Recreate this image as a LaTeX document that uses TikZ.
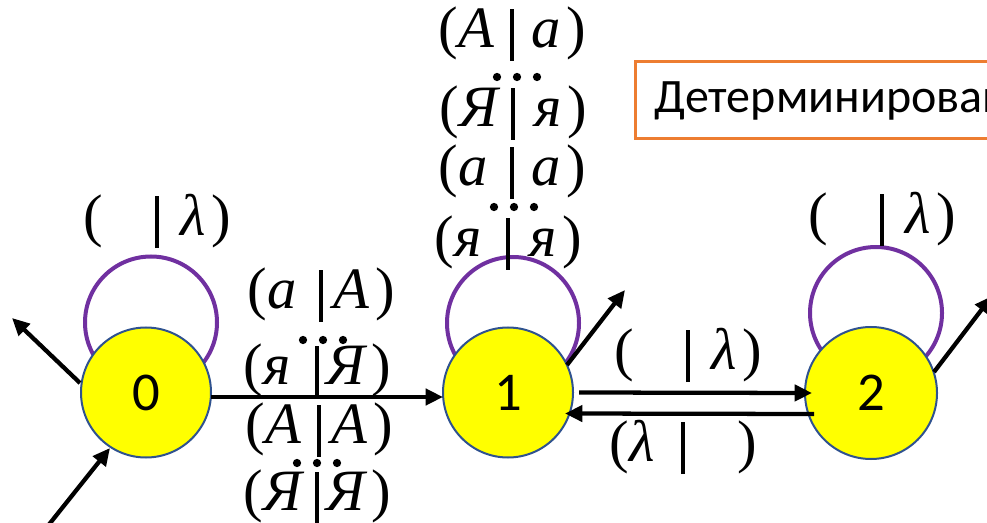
\documentclass[tikz,border=0pt]{standalone}
\usepackage{fontspec}
\setmainfont{Liberation Serif}
\newfontfamily\tnr{LiberationSerif}[Extension=.ttf, UprightFont=*-Regular, ItalicFont=*-Italic, BoldFont=*-Bold]
\newfontfamily\carl{Carlito}
\usetikzlibrary{arrows.meta,backgrounds}
\definecolor{nodefill}{HTML}{FFFF00}
\definecolor{nodeline}{HTML}{2F528F}
\definecolor{looppurple}{HTML}{7030A0}
\definecolor{boxorange}{HTML}{ED7D31}
\newcommand\lbl[2]{(\makebox[0.9em][l]{\kern0.02em\itshape #1}\rule[-0.22em]{0.055em}{0.88em}\makebox[0.9em][r]{\itshape #2\kern0.1em})}
\newcommand\threedots[1]{\foreach \d in {-20,0,20} {\fill ([xshift=\d*0.75pt]#1) circle (3.1pt);}}
\tikzset{
  state/.style={circle, fill=nodefill, draw=nodeline, line width=1.5pt, minimum size=97.5pt, inner sep=0pt, font=\carl\fontsize{41}{44}\selectfont},
  loopline/.style={draw=looppurple, line width=3pt},
  arr/.style={draw=black, line width=3.2pt, -{Triangle[length=13pt,width=12pt]}},
  lab/.style={inner sep=0pt, font={\tnr\fontsize{44}{48}\selectfont}},
}
\begin{document}
\begin{tikzpicture}[x=0.75pt,y=-0.75pt]
\path[use as bounding box, clip] (0,0) rectangle (987,523);
\node[state] (n0) at (146,392.5) {0};
\node[state] (n1) at (508,392.5) {1};
\node[state, minimum size=99pt] (n2) at (871,393) {2};
\begin{scope}[on background layer]
  \draw[loopline] ([shift={(5,-70)}]n0.center) circle (49.5pt);
  \draw[loopline] ([shift={(5,-69.5)}]n1.center) circle (49.5pt);
  \draw[loopline] ([shift={(5,-80)}]n2.center) circle (49.5pt);
\end{scope}
% box
\node[draw=boxorange, line width=2.25pt, anchor=west, minimum height=57.75pt, inner xsep=14.25pt, font=\carl\fontsize{36}{40}\selectfont] (box) at (634,100.5) {Детерминирован};
% connectors
\coordinate (o0) at (12,318);
\coordinate (i0) at (47,527);
\coordinate (o1) at (625,290);
\coordinate (o2) at (992,296);
\draw[arr] ([shift={(65,4.5)}]n0.center) -- ([shift={(-65,4.5)}]n1.center);
\draw[arr] ([shift={(71,0)}]n1.center) -- ([shift={(-59,0)}]n2.center);
\draw[arr] ([shift={(-57,21)}]n2.center) -- ([shift={(57,21)}]n1.center);
\draw[arr] ([shift={(-66,-9.5)}]n0.center) -- (o0);
\draw[arr] (i0) -- ([shift={(-36,55.5)}]n0.center);
\draw[arr] ([shift={(59,-27.5)}]n1.center) -- (o1);
\draw[arr] ([shift={(63,-21)}]n2.center) -- (o2);
% labels
\node[lab] (l0) at (157,221) {\lbl{}{λ}};
\node[lab] (l2) at (882,219) {\lbl{}{λ}};
\node[lab] (l1a) at (512,34) {\lbl{A}{a}};
\coordinate (d1a) at (517,77);
\node[lab] (l1b) at (513,113) {\lbl{Я}{я}};
\node[lab] (l1c) at (512,172) {\lbl{a}{a}};
\coordinate (d1b) at (514,207);
\node[lab] (l1d) at (508,243) {\lbl{я}{я}};
\node[lab] (e1) at (321,295) {\lbl{a}{A}};
\coordinate (de1) at (323,340);
\node[lab] (e2) at (317,371) {\lbl{я}{Я}};
\node[lab] (e3) at (319,430) {\lbl{A}{A}};
\coordinate (de2) at (317,463);
\node[lab] (e4) at (317,497) {\lbl{Я}{Я}};
\node[lab] (f1) at (688,355) {\lbl{}{λ}};
\node[lab] (f2) at (683,447) {\lbl{λ}{}};
\threedots{d1a}
\threedots{d1b}
\threedots{de1}
\threedots{de2}
\end{tikzpicture}
\end{document}
